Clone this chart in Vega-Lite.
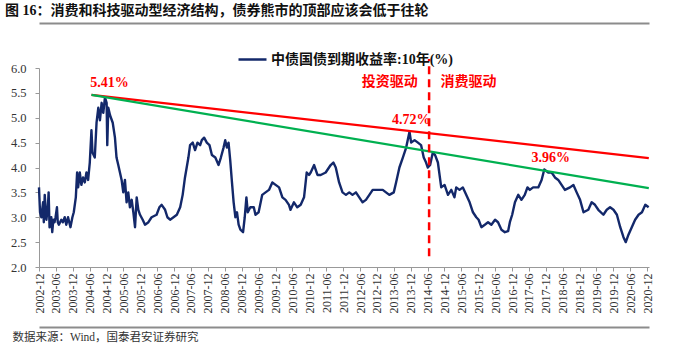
{
  "$schema": "https://vega.github.io/schema/vega-lite/v6.json",
  "width": 610,
  "height": 199,
  "autosize": {"type": "none"},
  "padding": {"left": 39, "top": 68, "right": 51, "bottom": 86},
  "background": "white",
  "title": {
    "text": "图 16：消费和科技驱动型经济结构，债券熊市的顶部应该会低于往轮",
    "anchor": "start",
    "frame": "group",
    "dx": -34,
    "offset": 5,
    "font": "Liberation Serif, Noto Sans CJK SC",
    "fontSize": 14,
    "fontWeight": "bold",
    "color": "#111111"
  },
  "datasets": {
    "yield": [
      {"date": "2002-12-01", "yield": 3.6},
      {"date": "2002-12-12", "yield": 3.1},
      {"date": "2002-12-26", "yield": 3.0},
      {"date": "2003-01-14", "yield": 3.3},
      {"date": "2003-01-22", "yield": 2.9},
      {"date": "2003-02-01", "yield": 3.45},
      {"date": "2003-02-19", "yield": 2.95},
      {"date": "2003-03-07", "yield": 3.2},
      {"date": "2003-03-15", "yield": 3.5},
      {"date": "2003-03-25", "yield": 2.8},
      {"date": "2003-04-13", "yield": 3.0},
      {"date": "2003-04-23", "yield": 2.7},
      {"date": "2003-05-05", "yield": 2.95},
      {"date": "2003-05-18", "yield": 2.9},
      {"date": "2003-05-29", "yield": 3.0},
      {"date": "2003-06-13", "yield": 3.2},
      {"date": "2003-06-22", "yield": 2.9},
      {"date": "2003-07-04", "yield": 2.85},
      {"date": "2003-07-30", "yield": 2.95},
      {"date": "2003-08-17", "yield": 2.9},
      {"date": "2003-09-05", "yield": 3.0},
      {"date": "2003-09-22", "yield": 2.85},
      {"date": "2003-10-11", "yield": 3.0},
      {"date": "2003-11-06", "yield": 2.8},
      {"date": "2003-11-27", "yield": 3.0},
      {"date": "2003-12-12", "yield": 3.1},
      {"date": "2004-01-03", "yield": 3.4},
      {"date": "2004-01-17", "yield": 3.9},
      {"date": "2004-01-28", "yield": 3.6},
      {"date": "2004-02-15", "yield": 3.9},
      {"date": "2004-03-03", "yield": 3.65},
      {"date": "2004-03-21", "yield": 3.8},
      {"date": "2004-04-09", "yield": 3.7},
      {"date": "2004-04-27", "yield": 3.9},
      {"date": "2004-05-15", "yield": 3.75},
      {"date": "2004-06-02", "yield": 4.1},
      {"date": "2004-06-20", "yield": 4.75},
      {"date": "2004-07-01", "yield": 4.3},
      {"date": "2004-07-26", "yield": 4.2},
      {"date": "2004-08-14", "yield": 4.9},
      {"date": "2004-09-02", "yield": 5.2},
      {"date": "2004-09-20", "yield": 4.95},
      {"date": "2004-10-08", "yield": 5.3},
      {"date": "2004-10-26", "yield": 5.1},
      {"date": "2004-11-13", "yield": 5.41},
      {"date": "2004-12-01", "yield": 5.3},
      {"date": "2004-12-08", "yield": 4.45},
      {"date": "2004-12-19", "yield": 5.2},
      {"date": "2005-01-07", "yield": 5.05},
      {"date": "2005-02-05", "yield": 4.9},
      {"date": "2005-03-01", "yield": 4.6},
      {"date": "2005-03-18", "yield": 4.2},
      {"date": "2005-04-06", "yield": 4.05},
      {"date": "2005-04-24", "yield": 3.9},
      {"date": "2005-05-12", "yield": 3.75},
      {"date": "2005-05-30", "yield": 3.5},
      {"date": "2005-06-17", "yield": 3.75},
      {"date": "2005-07-05", "yield": 3.3},
      {"date": "2005-07-23", "yield": 3.5},
      {"date": "2005-08-10", "yield": 3.2},
      {"date": "2005-08-29", "yield": 3.35},
      {"date": "2005-09-16", "yield": 3.1},
      {"date": "2005-10-04", "yield": 2.8},
      {"date": "2005-10-22", "yield": 3.4},
      {"date": "2005-11-09", "yield": 3.15},
      {"date": "2005-11-27", "yield": 3.05},
      {"date": "2005-12-26", "yield": 2.95},
      {"date": "2006-01-20", "yield": 2.85},
      {"date": "2006-02-26", "yield": 2.9},
      {"date": "2006-04-01", "yield": 3.0},
      {"date": "2006-05-25", "yield": 3.05},
      {"date": "2006-06-24", "yield": 3.2},
      {"date": "2006-07-19", "yield": 3.25},
      {"date": "2006-08-25", "yield": 3.15},
      {"date": "2006-09-19", "yield": 3.0},
      {"date": "2006-10-18", "yield": 2.95},
      {"date": "2006-11-24", "yield": 3.0},
      {"date": "2006-12-30", "yield": 3.05},
      {"date": "2007-02-04", "yield": 3.2},
      {"date": "2007-03-03", "yield": 3.45},
      {"date": "2007-03-28", "yield": 3.8},
      {"date": "2007-05-04", "yield": 4.2},
      {"date": "2007-05-22", "yield": 4.45},
      {"date": "2007-06-20", "yield": 4.5},
      {"date": "2007-07-15", "yield": 4.35},
      {"date": "2007-08-10", "yield": 4.5},
      {"date": "2007-09-08", "yield": 4.45},
      {"date": "2007-09-26", "yield": 4.55},
      {"date": "2007-10-21", "yield": 4.6},
      {"date": "2007-11-19", "yield": 4.5},
      {"date": "2007-12-18", "yield": 4.45},
      {"date": "2008-01-13", "yield": 4.25},
      {"date": "2008-02-19", "yield": 4.2},
      {"date": "2008-03-25", "yield": 4.05},
      {"date": "2008-04-19", "yield": 4.2},
      {"date": "2008-05-18", "yield": 4.4},
      {"date": "2008-06-05", "yield": 4.55},
      {"date": "2008-06-23", "yield": 4.4},
      {"date": "2008-07-11", "yield": 4.5},
      {"date": "2008-07-29", "yield": 4.15},
      {"date": "2008-08-17", "yield": 3.7},
      {"date": "2008-09-04", "yield": 3.3},
      {"date": "2008-09-23", "yield": 3.0},
      {"date": "2008-10-10", "yield": 3.1},
      {"date": "2008-10-28", "yield": 2.85},
      {"date": "2008-11-16", "yield": 2.75},
      {"date": "2008-12-15", "yield": 2.7},
      {"date": "2009-01-02", "yield": 3.0},
      {"date": "2009-01-20", "yield": 3.4},
      {"date": "2009-02-04", "yield": 3.1},
      {"date": "2009-03-03", "yield": 3.2},
      {"date": "2009-04-10", "yield": 3.2},
      {"date": "2009-04-28", "yield": 3.05},
      {"date": "2009-06-01", "yield": 3.1},
      {"date": "2009-07-10", "yield": 3.45},
      {"date": "2009-08-15", "yield": 3.5},
      {"date": "2009-09-21", "yield": 3.55},
      {"date": "2009-10-27", "yield": 3.7},
      {"date": "2009-12-02", "yield": 3.65},
      {"date": "2010-01-08", "yield": 3.6},
      {"date": "2010-02-13", "yield": 3.4},
      {"date": "2010-03-19", "yield": 3.35},
      {"date": "2010-04-25", "yield": 3.25},
      {"date": "2010-05-12", "yield": 3.15},
      {"date": "2010-06-18", "yield": 3.3},
      {"date": "2010-07-24", "yield": 3.2},
      {"date": "2010-08-30", "yield": 3.25},
      {"date": "2010-10-05", "yield": 3.4},
      {"date": "2010-11-03", "yield": 3.9},
      {"date": "2010-11-28", "yield": 3.85},
      {"date": "2010-12-16", "yield": 3.9},
      {"date": "2011-01-22", "yield": 4.05},
      {"date": "2011-02-27", "yield": 3.85},
      {"date": "2011-04-03", "yield": 3.85},
      {"date": "2011-05-27", "yield": 3.9},
      {"date": "2011-07-20", "yield": 4.05},
      {"date": "2011-08-18", "yield": 4.1},
      {"date": "2011-09-13", "yield": 4.0},
      {"date": "2011-10-19", "yield": 3.7},
      {"date": "2011-11-25", "yield": 3.5},
      {"date": "2012-01-01", "yield": 3.45},
      {"date": "2012-02-06", "yield": 3.5},
      {"date": "2012-03-12", "yield": 3.45},
      {"date": "2012-04-18", "yield": 3.5},
      {"date": "2012-05-24", "yield": 3.4},
      {"date": "2012-06-29", "yield": 3.3},
      {"date": "2012-08-04", "yield": 3.35},
      {"date": "2012-09-10", "yield": 3.45},
      {"date": "2012-10-16", "yield": 3.55},
      {"date": "2012-12-02", "yield": 3.55},
      {"date": "2013-02-02", "yield": 3.55},
      {"date": "2013-03-09", "yield": 3.5},
      {"date": "2013-04-14", "yield": 3.45},
      {"date": "2013-06-01", "yield": 3.5},
      {"date": "2013-06-26", "yield": 3.7},
      {"date": "2013-08-01", "yield": 4.0},
      {"date": "2013-09-07", "yield": 4.2},
      {"date": "2013-10-13", "yield": 4.4},
      {"date": "2013-11-18", "yield": 4.72},
      {"date": "2013-12-06", "yield": 4.5},
      {"date": "2014-01-12", "yield": 4.55},
      {"date": "2014-02-17", "yield": 4.5},
      {"date": "2014-03-23", "yield": 4.45},
      {"date": "2014-04-21", "yield": 4.2},
      {"date": "2014-05-16", "yield": 4.1},
      {"date": "2014-06-04", "yield": 4.0},
      {"date": "2014-06-29", "yield": 4.05},
      {"date": "2014-07-28", "yield": 4.3},
      {"date": "2014-08-22", "yield": 4.25},
      {"date": "2014-09-21", "yield": 4.1},
      {"date": "2014-10-27", "yield": 3.6},
      {"date": "2014-12-02", "yield": 3.65},
      {"date": "2015-01-08", "yield": 3.45},
      {"date": "2015-02-13", "yield": 3.55},
      {"date": "2015-03-19", "yield": 3.4},
      {"date": "2015-04-07", "yield": 3.6},
      {"date": "2015-05-13", "yield": 3.55},
      {"date": "2015-06-18", "yield": 3.6},
      {"date": "2015-07-24", "yield": 3.45},
      {"date": "2015-08-30", "yield": 3.3},
      {"date": "2015-10-05", "yield": 3.1},
      {"date": "2015-11-10", "yield": 3.0},
      {"date": "2015-12-05", "yield": 2.95},
      {"date": "2016-01-04", "yield": 2.8},
      {"date": "2016-02-10", "yield": 2.85},
      {"date": "2016-03-16", "yield": 2.9},
      {"date": "2016-04-21", "yield": 2.85},
      {"date": "2016-05-31", "yield": 2.95},
      {"date": "2016-07-02", "yield": 2.9},
      {"date": "2016-08-08", "yield": 2.75},
      {"date": "2016-09-14", "yield": 2.7},
      {"date": "2016-10-19", "yield": 2.72},
      {"date": "2016-11-07", "yield": 2.9},
      {"date": "2016-12-02", "yield": 3.05},
      {"date": "2017-01-01", "yield": 3.3},
      {"date": "2017-02-06", "yield": 3.45},
      {"date": "2017-03-12", "yield": 3.35},
      {"date": "2017-04-17", "yield": 3.45},
      {"date": "2017-05-16", "yield": 3.6},
      {"date": "2017-06-11", "yield": 3.55},
      {"date": "2017-07-16", "yield": 3.6},
      {"date": "2017-09-10", "yield": 3.6},
      {"date": "2017-10-16", "yield": 3.75},
      {"date": "2017-11-14", "yield": 3.96},
      {"date": "2017-12-27", "yield": 3.9},
      {"date": "2018-02-02", "yield": 3.9},
      {"date": "2018-03-09", "yield": 3.8},
      {"date": "2018-04-14", "yield": 3.75},
      {"date": "2018-05-20", "yield": 3.65},
      {"date": "2018-06-25", "yield": 3.55},
      {"date": "2018-08-19", "yield": 3.6},
      {"date": "2018-09-25", "yield": 3.65},
      {"date": "2018-10-30", "yield": 3.5},
      {"date": "2018-12-06", "yield": 3.35},
      {"date": "2019-01-12", "yield": 3.1},
      {"date": "2019-03-05", "yield": 3.15},
      {"date": "2019-04-10", "yield": 3.3},
      {"date": "2019-05-16", "yield": 3.25},
      {"date": "2019-06-21", "yield": 3.15},
      {"date": "2019-08-15", "yield": 3.05},
      {"date": "2019-09-20", "yield": 3.15},
      {"date": "2019-10-26", "yield": 3.2},
      {"date": "2019-12-02", "yield": 3.15},
      {"date": "2020-01-08", "yield": 3.05},
      {"date": "2020-02-13", "yield": 2.8},
      {"date": "2020-03-19", "yield": 2.6},
      {"date": "2020-04-13", "yield": 2.5},
      {"date": "2020-05-12", "yield": 2.65},
      {"date": "2020-06-17", "yield": 2.8},
      {"date": "2020-07-23", "yield": 2.95},
      {"date": "2020-08-29", "yield": 3.05},
      {"date": "2020-10-05", "yield": 3.1},
      {"date": "2020-11-10", "yield": 3.25},
      {"date": "2020-12-16", "yield": 3.2}
    ],
    "trend": [
      {"line": "upper", "date": "2004-06-20", "value": 5.46},
      {"line": "upper", "date": "2020-12-18", "value": 4.19},
      {"line": "lower", "date": "2004-06-20", "value": 5.46},
      {"line": "lower", "date": "2020-12-18", "value": 3.585}
    ],
    "split": [
      {"date": "2014-06-18", "lo": 2.215, "hi": 6.18}
    ],
    "notes": [
      {"date": "2005-01-01", "value": 5.7, "label": "5.41%"},
      {"date": "2013-12-07", "value": 4.955, "label": "4.72%"},
      {"date": "2018-01-22", "value": 4.197, "label": "3.96%"},
      {"date": "2013-04-19", "value": 5.725, "label": "投资驱动"},
      {"date": "2015-08-19", "value": 5.725, "label": "消费驱动"}
    ]
  },
  "layer": [
    {
      "data": {"name": "yield"},
      "mark": {"type": "line", "strokeWidth": 2.4, "strokeJoin": "round"},
      "encoding": {
        "x": {
          "field": "date",
          "type": "temporal",
          "scale": {"type": "utc", "domain": [{"utc": true, "year": 2002, "month": 12, "date": 1}, {"utc": true, "year": 2020, "month": 12, "date": 20}]},
          "axis": {
            "orient": "bottom",
            "title": null,
            "labelExpr": "utcFormat(datum.value, '%Y-%m')",
            "labelAngle": -90,
            "labelAlign": "right",
            "labelBaseline": "middle",
            "labelFont": "Liberation Serif",
            "labelFontSize": 12,
            "labelColor": "#333333",
            "labelPadding": 2,
            "labelOverlap": false,
            "labelFlush": false,
            "ticks": true,
            "tickSize": 4,
            "tickColor": "#999999",
            "domain": true,
            "domainColor": "#999999",
            "domainWidth": 1,
            "grid": false,
            "values": [
              {"utc": true, "year": 2002, "month": 12, "date": 1},
              {"utc": true, "year": 2003, "month": 6, "date": 1},
              {"utc": true, "year": 2003, "month": 12, "date": 1},
              {"utc": true, "year": 2004, "month": 6, "date": 1},
              {"utc": true, "year": 2004, "month": 12, "date": 1},
              {"utc": true, "year": 2005, "month": 6, "date": 1},
              {"utc": true, "year": 2005, "month": 12, "date": 1},
              {"utc": true, "year": 2006, "month": 6, "date": 1},
              {"utc": true, "year": 2006, "month": 12, "date": 1},
              {"utc": true, "year": 2007, "month": 6, "date": 1},
              {"utc": true, "year": 2007, "month": 12, "date": 1},
              {"utc": true, "year": 2008, "month": 6, "date": 1},
              {"utc": true, "year": 2008, "month": 12, "date": 1},
              {"utc": true, "year": 2009, "month": 6, "date": 1},
              {"utc": true, "year": 2009, "month": 12, "date": 1},
              {"utc": true, "year": 2010, "month": 6, "date": 1},
              {"utc": true, "year": 2010, "month": 12, "date": 1},
              {"utc": true, "year": 2011, "month": 6, "date": 1},
              {"utc": true, "year": 2011, "month": 12, "date": 1},
              {"utc": true, "year": 2012, "month": 6, "date": 1},
              {"utc": true, "year": 2012, "month": 12, "date": 1},
              {"utc": true, "year": 2013, "month": 6, "date": 1},
              {"utc": true, "year": 2013, "month": 12, "date": 1},
              {"utc": true, "year": 2014, "month": 6, "date": 1},
              {"utc": true, "year": 2014, "month": 12, "date": 1},
              {"utc": true, "year": 2015, "month": 6, "date": 1},
              {"utc": true, "year": 2015, "month": 12, "date": 1},
              {"utc": true, "year": 2016, "month": 6, "date": 1},
              {"utc": true, "year": 2016, "month": 12, "date": 1},
              {"utc": true, "year": 2017, "month": 6, "date": 1},
              {"utc": true, "year": 2017, "month": 12, "date": 1},
              {"utc": true, "year": 2018, "month": 6, "date": 1},
              {"utc": true, "year": 2018, "month": 12, "date": 1},
              {"utc": true, "year": 2019, "month": 6, "date": 1},
              {"utc": true, "year": 2019, "month": 12, "date": 1},
              {"utc": true, "year": 2020, "month": 6, "date": 1},
              {"utc": true, "year": 2020, "month": 12, "date": 1}
            ]
          }
        },
        "y": {
          "field": "yield",
          "type": "quantitative",
          "title": null,
          "scale": {"domain": [2, 6], "zero": false, "nice": false},
          "axis": {
            "orient": "left",
            "values": [2, 2.5, 3, 3.5, 4, 4.5, 5, 5.5, 6],
            "labelExpr": "format(datum.value, '.1f')",
            "labelFont": "Liberation Serif",
            "labelFontSize": 12.5,
            "labelColor": "#333333",
            "labelPadding": 9,
            "ticks": true,
            "tickSize": 4,
            "tickColor": "#999999",
            "domain": true,
            "domainColor": "#999999",
            "domainWidth": 1,
            "grid": false
          }
        },
        "color": {
          "datum": "中债国债到期收益率:10年(%)",
          "scale": {"range": ["#13286A"]},
          "legend": {
            "orient": "none",
            "legendX": 198,
            "legendY": -24,
            "title": null,
            "symbolType": "stroke",
            "symbolSize": 784,
            "symbolStrokeWidth": 2.5,
            "labelFont": "Liberation Serif, Noto Sans CJK SC",
            "labelFontSize": 14,
            "labelFontWeight": "bold",
            "labelColor": "#111111",
            "labelOffset": 3,
            "labelLimit": 0
          }
        }
      }
    },
    {
      "data": {"name": "trend"},
      "transform": [{"filter": "datum.line === 'upper'"}],
      "mark": {"type": "line", "color": "#FF0000", "strokeWidth": 2.2},
      "encoding": {
        "x": {
          "field": "date",
          "type": "temporal",
          "scale": {"type": "utc", "domain": [{"utc": true, "year": 2002, "month": 12, "date": 1}, {"utc": true, "year": 2020, "month": 12, "date": 20}]},
          "axis": {"orient": "top", "offset": 45, "title": null, "labels": false, "ticks": true, "tickSize": 0, "tickColor": "#8C8C8C", "grid": false, "domain": true, "domainColor": "#8C8C8C", "domainWidth": 2, "domainOpacity": 1}
        },
        "y": {"field": "value", "type": "quantitative", "title": null, "axis": null}
      }
    },
    {
      "data": {"name": "trend"},
      "transform": [{"filter": "datum.line === 'lower'"}],
      "mark": {"type": "line", "color": "#00B050", "strokeWidth": 2.2},
      "encoding": {
        "x": {
          "field": "date",
          "type": "temporal",
          "scale": {"type": "utc", "domain": [{"utc": true, "year": 2002, "month": 12, "date": 1}, {"utc": true, "year": 2020, "month": 12, "date": 20}]},
          "axis": {
            "orient": "bottom",
            "offset": 60,
            "labels": false,
            "ticks": true,
            "tickSize": 0,
            "tickColor": "#8C8C8C",
            "grid": false,
            "domain": true,
            "domainColor": "#8C8C8C",
            "domainWidth": 2,
            "domainOpacity": 1,
            "title": "数据来源：Wind，国泰君安证券研究",
            "titleX": -27,
            "titleY": 10,
            "titleAlign": "left",
            "titleAnchor": "start",
            "titleBaseline": "middle",
            "titleFont": "Liberation Serif, Noto Sans CJK SC",
            "titleFontSize": 11.5,
            "titleFontWeight": "normal",
            "titleColor": "#333333"
          }
        },
        "y": {"field": "value", "type": "quantitative", "title": null, "axis": null}
      }
    },
    {
      "data": {"name": "split"},
      "mark": {"type": "rule", "color": "#FF0000", "strokeWidth": 2.5, "strokeDash": [8, 5]},
      "encoding": {
        "x": {"field": "date", "type": "temporal", "axis": null, "scale": {"type": "utc", "domain": [{"utc": true, "year": 2002, "month": 12, "date": 1}, {"utc": true, "year": 2020, "month": 12, "date": 20}]}},
        "y": {"field": "lo", "type": "quantitative", "title": null, "axis": null},
        "y2": {"field": "hi"}
      }
    },
    {
      "data": {"name": "notes"},
      "mark": {"type": "text", "color": "#FF0000", "font": "Liberation Serif, Noto Sans CJK SC", "fontSize": 14, "fontWeight": "bold", "align": "center", "baseline": "middle"},
      "encoding": {
        "x": {"field": "date", "type": "temporal", "axis": null, "scale": {"type": "utc", "domain": [{"utc": true, "year": 2002, "month": 12, "date": 1}, {"utc": true, "year": 2020, "month": 12, "date": 20}]}},
        "y": {"field": "value", "type": "quantitative", "title": null, "axis": null},
        "text": {"field": "label"}
      }
    }
  ],
  "resolve": {"axis": {"x": "independent", "y": "independent"}},
  "config": {
    "view": {"stroke": null},
    "font": "Liberation Serif, Noto Sans CJK SC",
    "axis": {"domain": true}
  }
}
